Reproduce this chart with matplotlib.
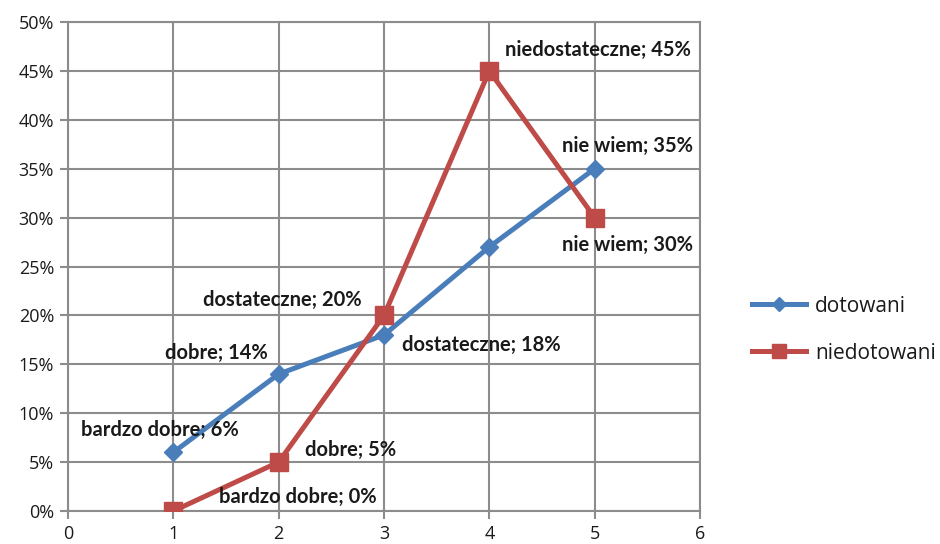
import matplotlib
matplotlib.use("Agg")
import matplotlib.pyplot as plt
from matplotlib.ticker import PercentFormatter

x = [1, 2, 3, 4, 5]
dotowani = [6, 14, 18, 27, 35]
niedotowani = [0, 5, 20, 45, 30]
categories = ["bardzo dobre", "dobre", "dostateczne", "niedostateczne", "nie wiem"]
series_names = ["dotowani", "niedotowani"]
# which points carry labels
dot_labeled = [True, True, True, False, True]
nied_labeled = [True, True, True, True, True]

blue = "#4A7EBB"
red = "#BE4B48"
grid_c = "#8C8C8C"

fig = plt.figure(figsize=(9.4, 5.44), dpi=100)
ax = fig.add_axes([68/940, 33/544, (700-68)/940, (511-22)/544])

ax.plot(x, dotowani, color=blue, lw=3.6, marker="D", ms=9.5, label=series_names[0], zorder=3)
ax.plot(x, niedotowani, color=red, lw=3.6, marker="s", ms=13.5, label=series_names[1], zorder=3)

ax.set_xlim(0, 6)
ax.set_ylim(0, 50)
ax.set_xticks(range(0, 7))
ax.set_yticks(range(0, 51, 5))
ax.yaxis.set_major_formatter(PercentFormatter(decimals=0))
ax.grid(True, color=grid_c, lw=1.5)
ax.set_axisbelow(True)
for s in ax.spines.values():
    s.set_color(grid_c)
    s.set_linewidth(1.5)
ax.tick_params(axis="both", direction="out", color=grid_c, width=1.5, length=6,
               labelsize=13, labelcolor="#1a1a1a")
ax.tick_params(axis="x", pad=4)
ax.tick_params(axis="y", pad=4)
for lab in ax.get_xticklabels() + ax.get_yticklabels():
    lab.set_fontfamily("Open Sans")

lab_font = dict(fontfamily="Lato", fontweight="bold", fontsize=14.5, color="#1a1a1a")

# offsets in pixels (dx, dy) for each label
dot_off = [(-13, 22), (-62, 21), (97, -10), None, (33, 23)]
nied_off = [(124, 14), (72, 12), (-102, 15), (109, 21), (33, -27)]

for xi, yi, cat, show, off in zip(x, dotowani, categories, dot_labeled, dot_off):
    if show and off:
        ax.annotate(f"{cat}; {yi}%", (xi, yi), xytext=off,
                    textcoords="offset pixels", ha="center", va="center", **lab_font)
for xi, yi, cat, show, off in zip(x, niedotowani, categories, nied_labeled, nied_off):
    if show and off:
        ax.annotate(f"{cat}; {yi}%", (xi, yi), xytext=off,
                    textcoords="offset pixels", ha="center", va="center", **lab_font)

leg = fig.legend(loc="center left", bbox_to_anchor=(733/940, 0.394), frameon=False,
                 prop=dict(family="Open Sans", size=15), handlelength=2.6,
                 handletextpad=0.45, labelspacing=1.25, markerscale=0.7)
for t in leg.get_texts():
    t.set_color("#1a1a1a")

fig.savefig("out.png", dpi=100)
